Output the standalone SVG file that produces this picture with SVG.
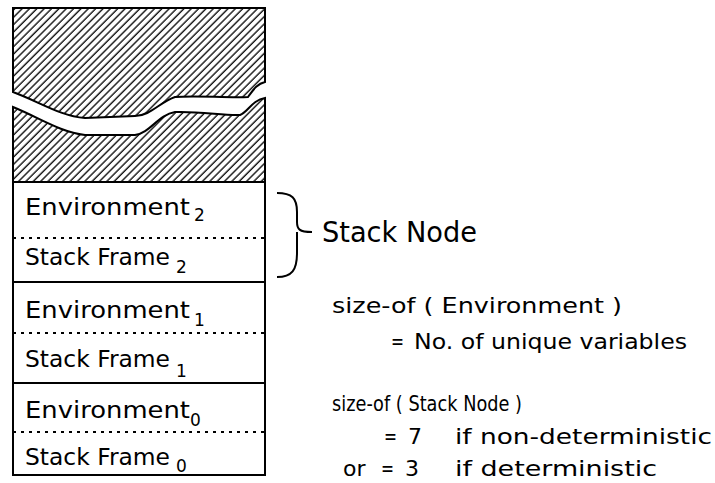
<svg xmlns="http://www.w3.org/2000/svg" width="715" height="483" viewBox="0 0 715 483">
<style>
.t{font-family:"DejaVu Sans","Liberation Sans",sans-serif;fill:#000}
.box{font-size:23px}
.sub{font-size:17px}
.r{font-size:22px}
.edge{stroke:#000;stroke-width:2;fill:none}
.dash{stroke:#000;stroke-width:2.2;stroke-dasharray:3 5;fill:none}
</style>
<defs>
<pattern id="hatch" width="5.2" height="5.2" patternUnits="userSpaceOnUse" patternTransform="rotate(45)">
<line x1="1" y1="0" x2="1" y2="5.2" stroke="#000" stroke-width="1.3"/>
</pattern>
</defs>
<rect width="715" height="483" fill="#fff"/>
<g id="hatched-top">
<path d="M13,8 H265 V82 C256,84 252,92 248,97 C225,98 195,95 175,97 C160,102 150,116 135,116 L85,118 C60,116 40,102 13,92 Z" fill="url(#hatch)" stroke="#000" stroke-width="2"/>
</g>
<g id="hatched-bottom">
<path d="M13,107 C40,118 60,132 85,135 L135,135 C150,133 158,115 175,112 C200,111 225,116 240,115 C248,112 252,100 265,98 V182 H13 Z" fill="url(#hatch)" stroke="#000" stroke-width="2"/>
</g>
<g id="node-2">
<rect x="13" y="182" width="252" height="100" class="edge"/>
<line x1="13" y1="238" x2="265" y2="238" class="dash"/>
<text class="t box" x="25" y="215" textLength="165" lengthAdjust="spacingAndGlyphs">Environment</text>
<text class="t sub" x="194" y="221">2</text>
<text class="t box" x="25" y="265" textLength="145" lengthAdjust="spacingAndGlyphs">Stack Frame</text>
<text class="t sub" x="176" y="273">2</text>
</g>
<g id="node-1">
<rect x="13" y="282" width="252" height="101" class="edge"/>
<line x1="13" y1="333" x2="265" y2="333" class="dash"/>
<text class="t box" x="25" y="318" textLength="165" lengthAdjust="spacingAndGlyphs">Environment</text>
<text class="t sub" x="194" y="326">1</text>
<text class="t box" x="25" y="367" textLength="145" lengthAdjust="spacingAndGlyphs">Stack Frame</text>
<text class="t sub" x="176" y="377">1</text>
</g>
<g id="node-0">
<rect x="13" y="383" width="252" height="92" class="edge"/>
<line x1="13" y1="432" x2="265" y2="432" class="dash"/>
<text class="t box" x="25" y="418" textLength="165" lengthAdjust="spacingAndGlyphs">Environment</text>
<text class="t sub" x="190" y="426">0</text>
<text class="t box" x="25" y="465" textLength="145" lengthAdjust="spacingAndGlyphs">Stack Frame</text>
<text class="t sub" x="176" y="472">0</text>
</g>
<g id="connectors">
<path d="M277,193 C292,193 297,198 297,212 V222 C297,229 299,232 312,232 M297,232 V253 C297,270 292,277 277,277" class="edge"/>
</g>
<g id="stack-node-label">
<text class="t" style="font-size:28px" x="322" y="242" textLength="155" lengthAdjust="spacingAndGlyphs">Stack Node</text>
</g>
<g id="notes">
<text class="t r" x="332" y="313" textLength="290" lengthAdjust="spacingAndGlyphs">size-of ( Environment )</text>
<text class="t r" x="391" y="349" textLength="13" lengthAdjust="spacingAndGlyphs">=</text>
<text class="t r" x="414" y="349" textLength="273" lengthAdjust="spacingAndGlyphs">No. of unique variables</text>
<text class="t r" x="332" y="411" textLength="190" lengthAdjust="spacingAndGlyphs">size-of ( Stack Node )</text>
<text class="t r" x="384" y="444" textLength="13" lengthAdjust="spacingAndGlyphs">=</text>
<text class="t r" x="408" y="444">7</text>
<text class="t r" x="455" y="444" textLength="257" lengthAdjust="spacingAndGlyphs">if non-deterministic</text>
<text class="t r" x="343" y="476">or</text>
<text class="t r" x="381" y="476" textLength="13" lengthAdjust="spacingAndGlyphs">=</text>
<text class="t r" x="405" y="476">3</text>
<text class="t r" x="455" y="476" textLength="202" lengthAdjust="spacingAndGlyphs">if deterministic</text>
</g>
</svg>
